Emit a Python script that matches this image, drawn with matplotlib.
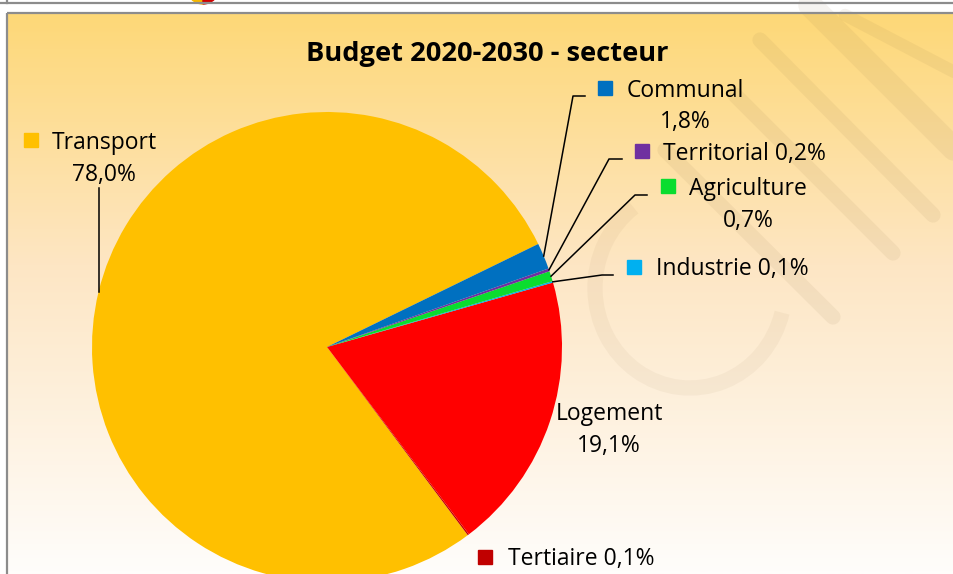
import numpy as np
import matplotlib
matplotlib.use('Agg')
import matplotlib.pyplot as plt
from matplotlib.colors import LinearSegmentedColormap
from matplotlib.patches import Rectangle, Wedge, Arc

# ---- data ----
categories = ['Transport', 'Tertiaire', 'Logement', 'Industrie', 'Agriculture', 'Territorial', 'Communal']
values = [78.0, 0.1, 19.1, 0.1, 0.7, 0.2, 1.8]
value_labels = ['78,0%', '0,1%', '19,1%', '0,1%', '0,7%', '0,2%', '1,8%']
colors = ['#FFC000', '#C00000', '#FF0000', '#00B0F0', '#0ADD2F', '#7030A0', '#0070C0']
title = 'Budget 2020-2030 - secteur'

FONT = ['Open Sans', 'DejaVu Sans']
plt.rcParams['font.family'] = FONT

W, H = 954, 574
fig = plt.figure(figsize=(9.54, 5.74), dpi=100)
fig.patch.set_facecolor('white')
ax = fig.add_axes([0, 0, 1, 1])

# ---- background gradient ----
cmap = LinearSegmentedColormap.from_list('bg', [(0.0, '#FED877'), (0.45, '#FDE6C4'), (1.0, '#FFFDFB')])
grad = np.linspace(0, 1, 300).reshape(-1, 1)
ax.imshow(grad, cmap=cmap, aspect='auto', extent=(7, W + 5, H, 12), origin='upper', zorder=0)

# watermark (faint diagonal bands and arc)
wm = dict(color='#8A6A40', alpha=0.08, solid_capstyle='round', zorder=1)
ax.plot([760, 933], [40, 215], lw=11, **wm)
ax.plot([810, 960], [5, 155], lw=17, **wm)
ax.plot([845, 960], [15, 75], lw=9, **wm)
ax.plot([735, 893], [95, 253], lw=11, **wm)
ax.plot([665, 833], [150, 317], lw=11, **wm)
ax.add_patch(Arc((690, 288), 190, 200, theta1=15, theta2=235, lw=11,
                 color='#8A6A40', alpha=0.06, zorder=1))

# ---- pie ----
wedges, _ = ax.pie(values, colors=colors, startangle=-26, counterclock=False,
                   center=(327, 347), radius=235, wedgeprops=dict(linewidth=0),
                   frame=False)
for w in wedges:
    w.set_zorder(2)

ax.set_xlim(0, W)
ax.set_ylim(H, 0)
ax.set_aspect('auto')
ax.axis('off')

# frame
ax.add_patch(Rectangle((7, 12.5), W + 10, H, fill=False, edgecolor='#8C8C8C', lw=1.6, zorder=5))
ax.plot([0, W], [2.5, 2.5], color='#8C8C8C', lw=1.6, zorder=5)
ax.plot([7, 7], [0, 2.5], color='#8C8C8C', lw=1.6, zorder=5)
# tiny logo fragment at top
ax.add_patch(Wedge((203, -12), 16, 90, 180, color='#F6B800', zorder=4))
ax.add_patch(Wedge((203, -12), 16, 0, 90, color='#D00000', zorder=4))

# title
ax.text(487, 61, title, ha='center', va='baseline', fontsize=19.6, fontweight='bold', zorder=6)

# ---- labels ----
def rim_point(i):
    w = wedges[i]
    th = np.deg2rad((w.theta1 + w.theta2) / 2)
    return w.center[0] + w.r * np.cos(th), w.center[1] + w.r * np.sin(th)

FS = 16.5
SQ = 14

def square(cx, cy, c):
    ax.add_patch(Rectangle((cx - SQ / 2, cy - SQ / 2), SQ, SQ, color=c, zorder=6))

lw_lead = 1.1
# Transport
i = categories.index('Transport')
square(31, 140, colors[i])
ax.text(52, 149, categories[i], fontsize=FS, va='baseline', ha='left', zorder=6)
ax.text(104, 181, value_labels[i], fontsize=FS, va='baseline', ha='center', zorder=6)
x0, y0 = rim_point(i)
ax.plot([x0, x0], [y0, 188], color='black', lw=lw_lead, zorder=6)

# Communal
i = categories.index('Communal')
square(605, 88, colors[i])
ax.text(627, 97, categories[i], fontsize=FS, va='baseline', ha='left', zorder=6)
ax.text(685, 128, value_labels[i], fontsize=FS, va='baseline', ha='center', zorder=6)
x0, y0 = rim_point(i)
ax.plot([x0, 573, 585], [y0, 96, 96], color='black', lw=lw_lead, zorder=6)

# Territorial
i = categories.index('Territorial')
square(642, 151, colors[i])
ax.text(663, 160, categories[i] + ' ' + value_labels[i], fontsize=FS, va='baseline', ha='left', zorder=6)
x0, y0 = rim_point(i)
ax.plot([x0, 609, 622], [y0, 159, 159], color='black', lw=lw_lead, zorder=6)

# Agriculture
i = categories.index('Agriculture')
square(668, 186, colors[i])
ax.text(689, 195, categories[i], fontsize=FS, va='baseline', ha='left', zorder=6)
ax.text(748, 227, value_labels[i], fontsize=FS, va='baseline', ha='center', zorder=6)
x0, y0 = rim_point(i)
ax.plot([x0, 635, 647], [y0, 195, 195], color='black', lw=lw_lead, zorder=6)

# Industrie
i = categories.index('Industrie')
square(634, 267, colors[i])
ax.text(656, 275, categories[i] + ' ' + value_labels[i], fontsize=FS, va='baseline', ha='left', zorder=6)
x0, y0 = rim_point(i)
ax.plot([x0, 602, 613], [y0, 275, 275], color='black', lw=lw_lead, zorder=6)

# Logement
i = categories.index('Logement')
ax.text(609, 420, categories[i], fontsize=FS, va='baseline', ha='center', zorder=6)
ax.text(609, 452, value_labels[i], fontsize=FS, va='baseline', ha='center', zorder=6)

# Tertiaire
i = categories.index('Tertiaire')
square(485, 557, colors[i])
ax.text(508, 565, categories[i] + ' ' + value_labels[i], fontsize=FS, va='baseline', ha='left', zorder=6)

fig.savefig('out.png', dpi=100)
